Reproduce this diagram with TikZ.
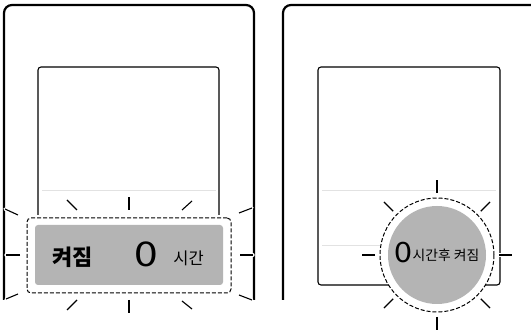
\documentclass[tikz,border=0pt]{standalone}
\usepackage{fontspec}
\setmainfont{Noto Sans CJK KR}
\usetikzlibrary{shapes,positioning,calc}
\definecolor{lcdgray}{RGB}{180,180,180}
\definecolor{faint}{RGB}{226,226,226}

\begin{document}
\begin{tikzpicture}[
    x=1pt, y=-1pt,
    body/.style={draw=black, line width=2.2pt, rounded corners=8pt},
    screen/.style={draw=black, line width=1.1pt, rounded corners=3pt},
    divider/.style={draw=faint, line width=0.9pt},
    frame/.style={draw=black, dash pattern=on 4pt off 2pt, line width=1pt, fill=white, inner sep=0pt},
    lcd/.style={fill=lcdgray, inner sep=0pt},
    ray/.style={draw=black, line width=1.1pt, preaction={draw=white, line width=3.4pt, line cap=round}},
    digit/.style={font=\fontsize{34}{34}\selectfont, inner sep=0pt},
    label/.style={font=\fontsize{16.5}{16.5}\selectfont, inner sep=0pt},
]

\useasboundingbox (0,0) rectangle (531,331);

% Left remote: body and screen
\draw[body] (4,300) -- (4,5) -- (254,5) -- (254,300);
\draw[screen] (38,280) -- (38,67) -- (219,67) -- (219,280);
\draw[divider] (42,190) -- (216,190);

% Left display, blinking
\fill[white] (25,215) rectangle (233,296);
\node[frame, rounded corners=4pt, minimum width=204pt, minimum height=75pt] (frameL) at (129,255.5) {};
\node[lcd, rounded corners=3pt, minimum width=188pt, minimum height=60pt] (lcdL) at (129,255) {};

\node[label, font=\fontsize{22}{22}\selectfont\bfseries] (onL) at (72.5,257.5) {켜짐};
\node[digit, xscale=1.25] (zeroL) at (146.5,254.5) {0};
\node[label] (hourL) at (188.5,258.5) {시간};

% Blink rays round the frame
\draw[ray] (77,210) -- (67,200);
\draw[ray] (129,210) -- (129,197);
\draw[ray] (182,210) -- (192,201);
\draw[ray] (18,215) -- (5,209);
\draw[ray] (20,255) -- (6,255);
\draw[ray] (18,294) -- (6,299);
\draw[ray] (77,300) -- (67,310);
\draw[ray] (129,300) -- (129,313);
\draw[ray] (182,301) -- (192,309);
\draw[ray] (239,213) -- (252,208);
\draw[ray] (240,255) -- (253,255);
\draw[ray] (239,295) -- (252,300);

% Right remote: body and screen
\draw[body] (283,300) -- (283,5) -- (531,5);
\draw[screen] (318,67) rectangle (500,285);
\draw[divider] (322,190) -- (496,190);
\draw[divider] (322,245) -- (385,245);

% Right display, blinking
\node[frame, circle, minimum size=114pt] (ringR) at (437,255) {};
\node[lcd, circle, minimum size=98pt] (lcdR) at (ringR.center) {};

\node[digit, font=\fontsize{28}{28}\selectfont, xscale=1.15] (zeroR) at (403.5,253) {0};
\node[label, font=\fontsize{13.8}{13.8}\selectfont] (textR) at (446,255.5) {시간후 켜짐};

\foreach \a in {0,45,...,315}
  \draw[ray] ([shift={(\a:62pt)}]ringR.center) -- ([shift={(\a:75pt)}]ringR.center);

\end{tikzpicture}
\end{document}
